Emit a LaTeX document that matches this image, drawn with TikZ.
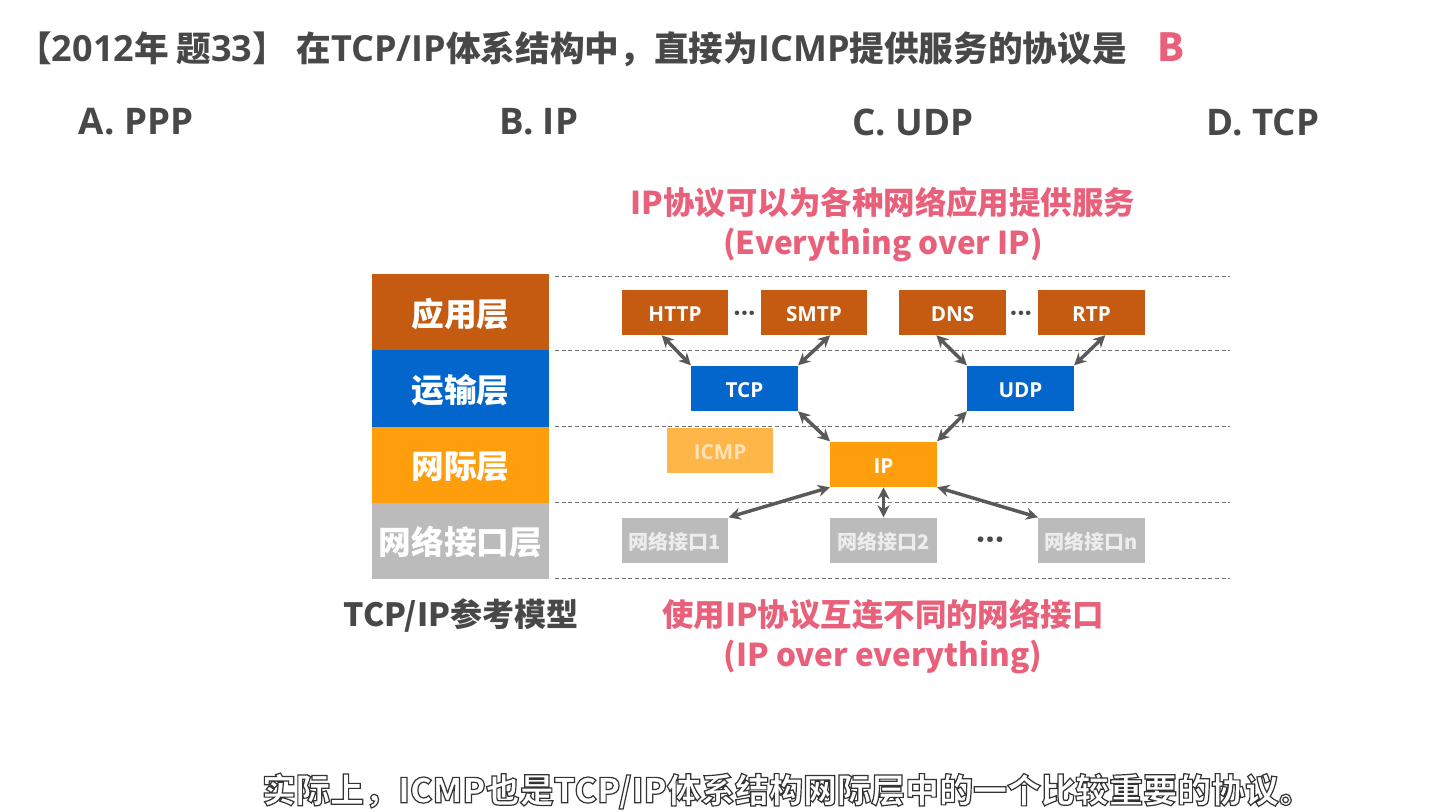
\documentclass[tikz,border=0pt]{standalone}
\usepackage{fontspec}
\setmainfont{Noto Sans CJK SC}
\newfontfamily\latinfont{Open Sans}
\newcommand{\la}[1]{{\latinfont\fontsize{27}{30}\selectfont\bfseries #1}}
\newcommand{\outlined}[1]{\special{pdf:code 2 Tr 0.9 w 0.2 0.2 0.2 RG 1 1 1 rg}#1\special{pdf:code 0 Tr}}
\usetikzlibrary{positioning, arrows.meta}
\definecolor{appcol}{RGB}{197,90,17}
\definecolor{tracol}{RGB}{3,102,204}
\definecolor{netcol}{RGB}{255,158,12}
\definecolor{ifcol}{RGB}{187,187,187}
\definecolor{pinkcol}{RGB}{232,96,122}
\definecolor{textcol}{RGB}{72,72,72}
\tikzset{
    layerbox/.style={minimum width=132.75pt, minimum height=57pt, inner sep=0pt, text=white, text height=21.5pt, text depth=0pt, font=\fontsize{24.5}{28}\selectfont\bfseries},
    protobox/.style={minimum width=80pt, minimum height=34.1pt, inner sep=0pt, text=white, text height=14pt, text depth=0pt, font=\latinfont\fontsize{15.5}{18}\selectfont\bfseries},
    ifbox/.style={protobox, fill=ifcol, text=white!93!black, text height=13.5pt, font=\fontsize{15}{18}\selectfont\bfseries},
    heading/.style={text=textcol, inner sep=0pt, font=\fontsize{26}{30}\selectfont\bfseries},
    choice/.style={text=textcol, inner sep=0pt, font=\latinfont\fontsize{27.5}{32}\selectfont\bfseries},
    remark/.style={text=pinkcol, inner sep=0pt, font=\fontsize{23.6}{28}\selectfont\bfseries},
    dotsnode/.style={inner sep=0pt, text=textcol, font=\latinfont\fontsize{19.5}{22}\selectfont\bfseries},
    link/.style={{Stealth[length=9pt,width=9pt]}-{Stealth[length=9pt,width=9pt]}, draw=black!65, line width=2.6pt},
    level/.style={densely dashed, draw=black!55, line width=.5pt}
}
\begin{document}
\begin{tikzpicture}[x=0.75pt, y=-0.75pt]
    \useasboundingbox (0,0) rectangle (1455,812);
    % Question
    \node[heading, anchor=west] (Title) at (17,49) {【\la{2012}年 题\la{33}】\hspace{7pt}在\la{TCP/IP}体系结构中，直接为\la{ICMP}提供服务的协议是};
    \node[text=pinkcol, inner sep=0pt, font=\fontsize{29}{32}\selectfont\bfseries] (Answer) at (1171,47) {B};
    \foreach \name/\pos/\i in {A. PPP/136/1,B. IP/539/2,C. UDP/913/3,D. TCP/1263/4} {
        \node[choice] (Choice-\i) at (\pos,122) {\name};
    }
    % Remarks
    \node[remark] (Top-1) at (883,203) {IP协议可以为各种网络应用提供服务};
    \node[remark] (Top-2) at (883,245) {(Everything over IP)};
    \node[remark] (Bottom-1) at (883,615) {使用IP协议互连不同的网络接口};
    \node[remark] (Bottom-2) at (883,657) {(IP over everything)};
    \node[heading, font=\fontsize{24}{28}\selectfont\bfseries] (Model) at (461,615) {TCP/IP参考模型};
    % Level lines
    \foreach \y/\i in {276/1,350/2,426/3,502/4,578/5} {
        \coordinate (LevelL-\i) at (555,\y);
        \coordinate (LevelR-\i) at (1230,\y);
        \draw[level] (LevelL-\i) -- (LevelR-\i);
    }
    % Layers
    \foreach \name/\col/\y/\i in {应用层/appcol/312/1,运输层/tracol/388.5/2,网际层/netcol/464.5/3,网络接口层/ifcol/540.5/4} {
        \node[layerbox, fill=\col] (Layer-\i) at (460.5,\y) {\name};
    }
    % Application Layer
    \foreach \name/\pos in {HTTP/675,SMTP/814,DNS/952.5,RTP/1091.5} {
        \node[protobox, fill=appcol] (\name) at (\pos,312.3) {\name};
    }
    \node[dotsnode] (Dots-1) at (744.5,317) {···};
    \node[dotsnode] (Dots-2) at (1021,317) {···};
    % Transport Layer
    \node[protobox, fill=tracol] (TCP) at (744.5,388.3) {TCP};
    \node[protobox, fill=tracol] (UDP) at (1020.5,388.3) {UDP};
    % Internet Layer
    \node[protobox, fill=netcol!75!white, text=white!70!netcol] (ICMP) at (720,450.5) {ICMP};
    \node[protobox, fill=netcol] (IP) at (883.5,464.3) {IP};
    % Interface Layer
    \foreach \name/\pos/\i in {网络接口1/675/1,网络接口2/883.5/2,网络接口n/1091.5/3} {
        \node[ifbox] (Iface-\i) at (\pos,540.3) {\name};
    }
    \node[dotsnode, font=\latinfont\fontsize{25}{28}\selectfont\bfseries] (Dots-3) at (990,544) {···};
    % Arrows
    \draw[link] (HTTP.-120) -- (TCP.north west);
    \draw[link] (SMTP.-55) -- (TCP.north east);
    \draw[link] (DNS.-125) -- (UDP.north west);
    \draw[link] (RTP.-59) -- (UDP.north east);
    \draw[link] (TCP.south east) -- (IP.north west);
    \draw[link] (UDP.south west) -- (IP.north east);
    \draw[link] (IP.south west) -- (Iface-1.north east);
    \draw[link] (IP.south) -- (Iface-2.north);
    \draw[link] (IP.south east) -- (Iface-3.north west);
    % Caption
    \node[inner sep=0pt, text=white, font=\fontsize{25.5}{30}\selectfont\bfseries] (Caption) at (787.5,791) {\outlined{实际上，ICMP也是TCP/IP体系结构网际层中的一个比较重要的协议。}};
\end{tikzpicture}
\end{document}
